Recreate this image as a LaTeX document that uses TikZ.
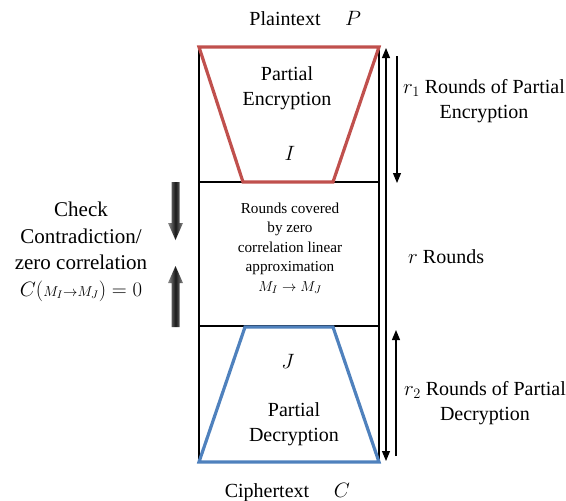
\documentclass[tikz,border=0pt]{standalone}
\usepackage{fontspec}
\setmainfont{Liberation Serif}
\usetikzlibrary{arrows.meta}
\definecolor{encred}{HTML}{C0504D}
\definecolor{decblue}{HTML}{4F81BD}
\tikzset{
  lbl/.style={font=\fontsize{20}{25}\selectfont, inner sep=0pt, align=center},
  sidelbl/.style={font=\fontsize{21}{26.5}\selectfont, inner sep=0pt, align=center},
  midlbl/.style={font=\fontsize{15.2}{19.5}\selectfont, inner sep=0pt, align=center},
  boxline/.style={line width=1.1pt},
  trap/.style={line width=3.2pt, line join=miter},
  rndarrow/.style={line width=1.1pt},
  blockarrow/.style={left color=black!45, right color=black!45, middle color=black!90},
}
\begin{document}
\begin{tikzpicture}[x=1pt,y=-1pt]
\useasboundingbox (0,0) rectangle (566,501);

% ---------- box (measured from source, px) ----------
% left=199, right=379, top=47, bottom=462, splits at y=182 and y=326
\draw[boxline] (199,47) -- (199,462);
\draw[boxline] (379,47) -- (379,462);
\draw[boxline] (199,182) -- (379,182);
\draw[boxline] (199,326) -- (379,326);

% ---------- trapezoids ----------
\draw[trap, encred] (199,47) -- (379,47) -- (333,182) -- (243,182) -- cycle;
\draw[trap, decblue] (245,327) -- (333,327) -- (379,462) -- (199,462) -- cycle;

% ---------- top / bottom labels ----------
\node[lbl, anchor=base] (plain) at (285,25) {Plaintext};
\node[lbl, anchor=base] (ptxt) at (353,25) {$P$};
\node[lbl, anchor=base] (cipher) at (267,497) {Ciphertext};
\node[lbl, anchor=base] (ctxt) at (342,497) {$C$};

% ---------- texts inside (base = last line) ----------
\node[lbl, anchor=base] (enc) at (287,105) {Partial\\Encryption};
\node[lbl] (inI) at (290,153) {$I$};
\node[lbl] (inJ) at (288,361) {$J$};
\node[lbl, anchor=base] (dec) at (294,441) {Partial\\Decryption};
\node[midlbl] (zc) at (290,248) {Rounds covered\\by zero\\correlation linear\\approximation\\$M_I\rightarrow M_J$};

% ---------- left label ----------
\node[sidelbl] (check) at (81,252) {Check\\Contradiction/\\zero correlation\\$C\Bigl({\scriptstyle M_I\rightarrow M_J}\Bigr)=0$};

% ---------- block arrows ----------
\shade[blockarrow] (171.5,182) -- (179.5,182) -- (179.5,223) -- (183,223) -- (175.5,240)
  -- (168,223) -- (171.5,223) -- cycle;
\shade[blockarrow] (171.5,327) -- (179.5,327) -- (179.5,283) -- (183,283) -- (175.5,266)
  -- (168,283) -- (171.5,283) -- cycle;

% ---------- round arrows ----------
\coordinate (rtop) at (386,48);
\coordinate (rbot) at (386,461);
\coordinate (r1top) at (397,56);
\coordinate (r1bot) at (397,183);
\coordinate (r2top) at (396,330);
\coordinate (r2bot) at (396,456);
\draw[rndarrow, {Triangle[length=10pt,width=8pt]}-{Triangle[length=10pt,width=8pt]}] (rtop) -- (rbot);
\draw[rndarrow, -{Triangle[length=10pt,width=8pt]}] (r1top) -- (r1bot);
\draw[rndarrow, -{Triangle[length=10pt,width=8pt]}] (r2bot) -- (r2top);

% ---------- round labels ----------
\node[lbl, anchor=base] (r1lbl) at (484,118) {$r_1$ Rounds of Partial\\Encryption};
\node[lbl, anchor=west] (rlbl) at (408,257) {$r$ Rounds};
\node[lbl, anchor=base] (r2lbl) at (485,420) {$r_2$ Rounds of Partial\\Decryption};

\end{tikzpicture}
\end{document}
